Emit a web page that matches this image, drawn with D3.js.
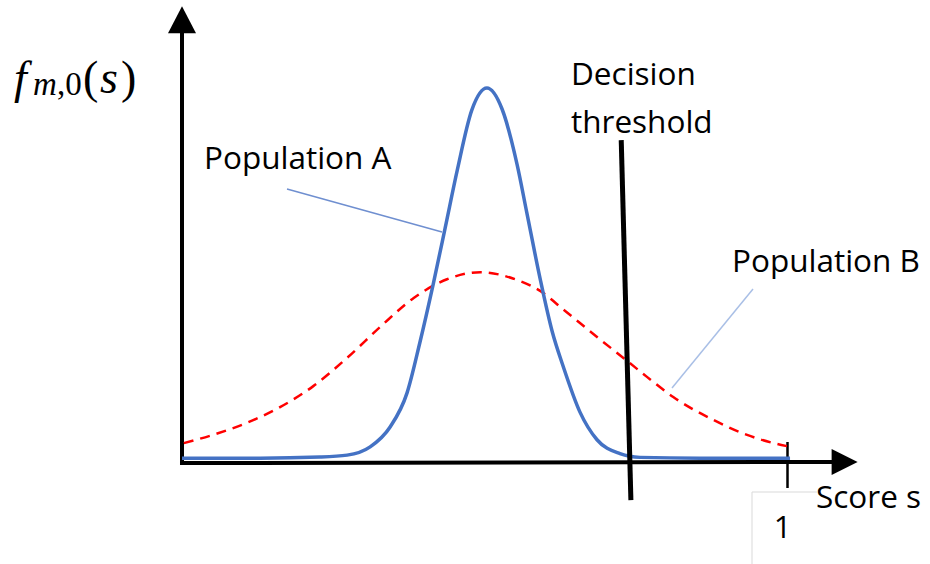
<!DOCTYPE html>
<html>
<head>
<meta charset="utf-8">
<script src="https://cdn.jsdelivr.net/npm/d3@7"></script>
<style>
  body { margin: 0; background: #fff; }
  svg text { font-family: "Open Sans", sans-serif; fill: #000; }
</style>
</head>
<body>
<div id="chart"></div>
<script>
// score ticks on the x axis
const scoreTicks = [1];

// population A (narrow, solid blue)
const popAScore = [0.000, 0.129, 0.228, 0.273, 0.311, 0.344, 0.372, 0.393, 0.415, 0.435, 0.455, 0.479, 0.504,
  0.529, 0.554, 0.570, 0.592, 0.612, 0.630, 0.658, 0.686, 0.724, 0.757, 0.856, 1.005];
const popADensity = [0.013, 0.013, 0.016, 0.021, 0.043, 0.096, 0.187, 0.320, 0.475, 0.627, 0.781, 0.941, 1.000,
  0.944, 0.795, 0.667, 0.491, 0.350, 0.258, 0.135, 0.062, 0.025, 0.015, 0.013, 0.013];

// population B (wide, red dashed)
const popBScore = [0.003, 0.051, 0.107, 0.162, 0.217, 0.274, 0.329, 0.383, 0.438, 0.493, 0.547, 0.592,
  0.630, 0.686, 0.736, 0.769, 0.812, 0.878, 0.934, 0.983, 1.000];
const popBDensity = [0.053, 0.075, 0.107, 0.149, 0.205, 0.282, 0.365, 0.440, 0.490, 0.509, 0.492, 0.459,
  0.410, 0.336, 0.272, 0.229, 0.176, 0.115, 0.075, 0.051, 0.045];

// decision threshold, a slightly tilted line
const thresholdScore = [0.726, 0.742];
const thresholdDensity = [0.861, -0.099];

// axis extents (past the data, for the arrows)
const xAxisEnd = 1.12;
const yAxisTop = 1.21;

const width = 930, height = 564;

const svg = d3.select("#chart").append("svg")
  .attr("width", width)
  .attr("height", height);

const x = d3.scaleLinear().domain([0, 1]).range([182, 787]);
const y = d3.scaleLinear().domain([0, 1]).range([463, 88]);

// light cell border around the "1"
svg.append("path")
  .attr("d", `M752,564 V492 H817`)
  .attr("fill", "none")
  .attr("stroke", "#d9d9d9")
  .attr("stroke-width", 1);

// axes
svg.append("line")
  .attr("x1", x(0)).attr("y1", y(0) + 2)
  .attr("x2", x(0)).attr("y2", y(yAxisTop) + 20)
  .attr("stroke", "#000").attr("stroke-width", 4);
svg.append("path")
  .attr("d", `M${x(0)},${y(yAxisTop) - 3} L${x(0) + 14},${y(yAxisTop) + 24} L${x(0) - 14},${y(yAxisTop) + 24} Z`)
  .attr("fill", "#000");

svg.append("line")
  .attr("x1", x(0) - 2).attr("y1", y(0))
  .attr("x2", x(xAxisEnd) - 20).attr("y2", y(0) - 1)
  .attr("stroke", "#000").attr("stroke-width", 4);
svg.append("path")
  .attr("d", `M${x(xAxisEnd) - 2},${y(0) - 1} L${x(xAxisEnd) - 28},${y(0) - 14} L${x(xAxisEnd) - 28},${y(0) + 12} Z`)
  .attr("fill", "#000");

const xAxis = svg.append("g")
  .attr("transform", `translate(0,${y(0)})`)
  .call(d3.axisBottom(x).tickValues(scoreTicks).tickSize(25).tickFormat(d3.format("d")));
xAxis.select(".domain").remove();
xAxis.selectAll(".tick line")
  .attr("y1", -21)
  .attr("stroke", "#000")
  .attr("stroke-width", 2.5);
xAxis.selectAll(".tick text")
  .attr("y", 75)
  .attr("dy", 0)
  .attr("dx", -5)
  .style("font-family", "'Open Sans', sans-serif")
  .style("font-size", "31px")
  .attr("fill", "#000");

// curves
const line = d3.line()
  .x(d => x(d[0]))
  .y(d => y(d[1]))
  .curve(d3.curveMonotoneX);

svg.append("path")
  .datum(d3.zip(popBScore, popBDensity))
  .attr("d", line)
  .attr("fill", "none")
  .attr("stroke", "#ff0000")
  .attr("stroke-width", 2.5)
  .attr("stroke-dasharray", "10,7");

svg.append("path")
  .datum(d3.zip(popAScore, popADensity))
  .attr("d", line)
  .attr("fill", "none")
  .attr("stroke", "#4472c4")
  .attr("stroke-width", 3.5);

// threshold
svg.append("line")
  .attr("x1", x(thresholdScore[0])).attr("y1", y(thresholdDensity[0]))
  .attr("x2", x(thresholdScore[1])).attr("y2", y(thresholdDensity[1]))
  .attr("stroke", "#000")
  .attr("stroke-width", 5);

// leader lines
svg.append("line")
  .attr("x1", 287).attr("y1", 189).attr("x2", 442).attr("y2", 232)
  .attr("stroke", "#6f8fd0").attr("stroke-width", 1.5);
svg.append("line")
  .attr("x1", 753).attr("y1", 289).attr("x2", 672).attr("y2", 388)
  .attr("stroke", "#a9bfe6").attr("stroke-width", 1.5);

// labels
const label = (t, lx, ly) => svg.append("text")
  .attr("x", lx).attr("y", ly)
  .style("font-size", "31.5px")
  .text(t);

label("Population A", 204, 169);
label("Population B", 732, 272);
label("Decision", 571, 85);
label("threshold", 571, 133);
label("Score s", 816, 508);

// y axis label f_{m,0}(s)
const fl = svg.append("text")
  .attr("y", 93)
  .style("font-family", "'Liberation Serif', serif")
  .style("font-size", "46px");
fl.append("tspan").attr("x", 14).style("font-style", "italic").text("f");
fl.append("tspan").attr("x", 33).attr("y", 95).style("font-size", "33px").style("font-style", "italic").text("m");
fl.append("tspan").attr("x", 57).attr("y", 95).style("font-size", "33px").text(",0");
fl.append("tspan").attr("x", 83).attr("y", 93).text("(");
fl.append("tspan").attr("x", 100).attr("y", 93).style("font-style", "italic").text("s");
fl.append("tspan").attr("x", 121).attr("y", 93).text(")");
</script>
</body>
</html>
